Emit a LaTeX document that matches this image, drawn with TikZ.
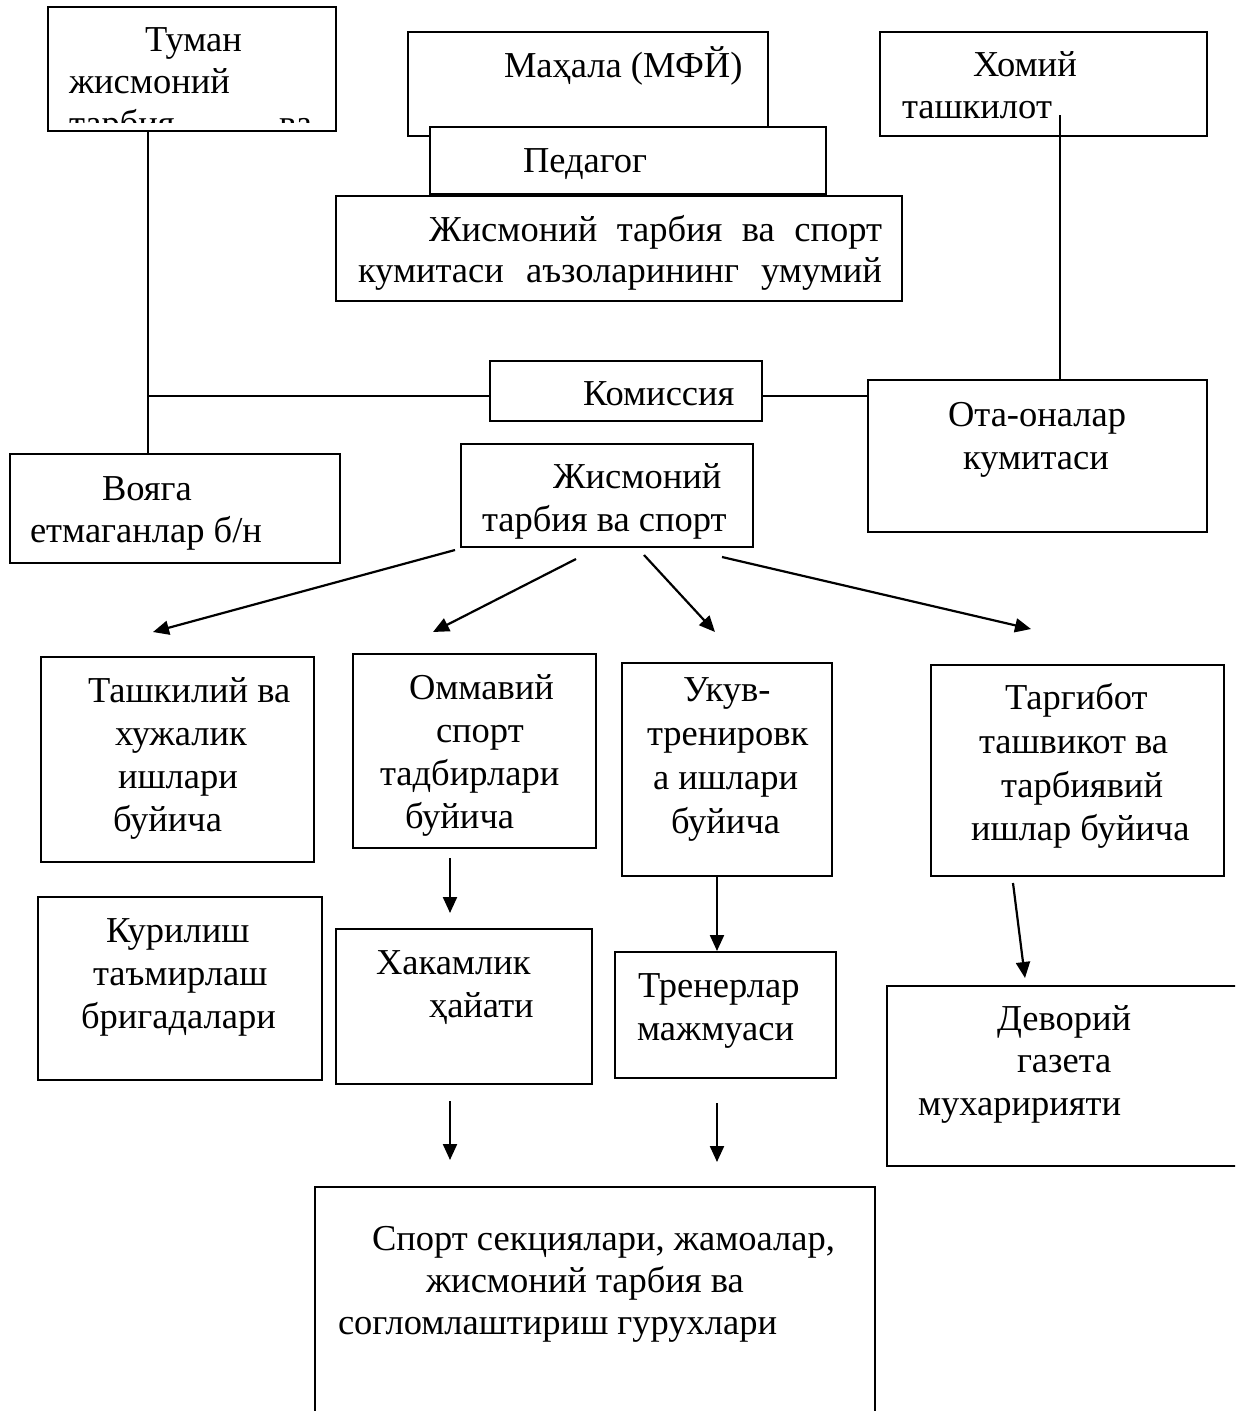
\documentclass[tikz,border=0pt]{standalone}
\usepackage{fontspec}
\setmainfont{Liberation Serif}
\usetikzlibrary{arrows.meta}
\tikzset{
  box/.style={draw, line width=2pt, inner sep=0pt, outer sep=0pt, anchor=north west, fill=white},
  txt/.style={anchor=base west, inner sep=0pt, outer sep=0pt, font=\fontsize{36.5}{43}\selectfont},
  link/.style={line width=2.2pt},
  arr/.style={line width=2.2pt, -{Triangle[length=16pt,width=14pt]}}
}
\newcommand\mybox[5]{\node[box, minimum width=#4pt, minimum height=#5pt] (#1) at (#2,#3) {};}
\newcommand\tx[4]{\node[txt] (#1) at (#2,#3) {#4};}
\begin{document}
\begin{tikzpicture}[x=1pt,y=-1pt]
\clip (0,0) rectangle (1235,1411);
\fill[white] (0,0) rectangle (1235,1411);
% boxes
\mybox{tuman}{48}{7}{288}{124}
\mybox{mahalla}{408}{32}{360}{104}
\mybox{pedagog}{430}{127}{396}{67}
\mybox{jtop}{336}{196}{566}{105}
\mybox{homiy}{880}{32}{327}{104}
\mybox{komis}{490}{361}{272}{60}
\mybox{ota}{868}{380}{339}{152}
\mybox{voyaga}{10}{454}{330}{109}
\mybox{jsport}{461}{444}{292}{103}
\mybox{tashk}{41}{657}{273}{205}
\mybox{ommav}{353}{654}{243}{194}
\mybox{ukuv}{622}{663}{210}{213}
\mybox{targ}{931}{665}{293}{211}
\mybox{kuril}{38}{897}{284}{183}
\mybox{hakam}{336}{929}{256}{155}
\mybox{trener}{615}{952}{221}{126}
\mybox{devor}{887}{986}{380}{180}
\mybox{sport}{315}{1187}{560}{260}
% texts
\tx{t1}{145}{51}{Туман}
\tx{t2}{69}{93}{жисмоний}
\begin{scope}
\clip (48,7) rectangle (336,122);
\tx{t3}{69}{135}{\makebox[243pt][s]{тарбия ва}}
\end{scope}
\tx{t4}{504}{77}{Маҳала (МФЙ)}
\tx{t5}{523}{172}{Педагог}
\tx{t6}{429}{241}{\makebox[453pt][s]{Жисмоний тарбия ва спорт}}
\tx{t7}{358}{282}{\makebox[524pt][s]{кумитаси аъзоларининг умумий}}
\tx{t8}{973}{76}{Хомий}
\tx{t9}{902}{118}{ташкилот}
\tx{t10}{583}{405}{Комиссия}
\tx{t11}{948}{426}{Ота-оналар}
\tx{t12}{963}{469}{кумитаси}
\tx{t13}{102}{500}{Вояга}
\tx{t14}{30}{542}{етмаганлар б/н}
\tx{t15}{553}{488}{Жисмоний}
\tx{t16}{482}{531}{тарбия ва спорт}
\tx{t17}{88}{702}{Ташкилий ва}
\tx{t18}{115}{745}{хужалик}
\tx{t19}{118}{788}{ишлари}
\tx{t20}{113}{831}{буйича}
\tx{t21}{409}{699}{Оммавий}
\tx{t22}{436}{742}{спорт}
\tx{t23}{380}{785}{тадбирлари}
\tx{t24}{405}{828}{буйича}
\tx{t25}{683}{701}{Укув-}
\tx{t26}{647}{745}{тренировк}
\tx{t27}{653}{789}{а ишлари}
\tx{t28}{671}{833}{буйича}
\tx{t29}{1005}{709}{Таргибот}
\tx{t30}{979}{753}{ташвикот ва}
\tx{t31}{1001}{797}{тарбиявий}
\tx{t32}{971}{840}{ишлар буйича}
\tx{t33}{106}{942}{Курилиш}
\tx{t34}{93}{985}{таъмирлаш}
\tx{t35}{81}{1028}{бригадалари}
\tx{t36}{376}{974}{Хакамлик}
\tx{t37}{429}{1017}{ҳайати}
\tx{t38}{638}{997}{Тренерлар}
\tx{t39}{637}{1040}{мажмуаси}
\tx{t40}{997}{1030}{Деворий}
\tx{t41}{1017}{1072}{газета}
\tx{t42}{918}{1115}{мухаририяти}
\tx{t43}{372}{1250}{Спорт секциялари, жамоалар,}
\tx{t44}{426}{1292}{жисмоний тарбия ва}
\tx{t45}{338}{1334}{согломлаштириш гурухлари}
% plain connectors
\coordinate (tumanB) at (148,131);
\coordinate (junc) at (148,396);
\coordinate (voyT) at (148,454);
\draw[link] (tumanB) -- (voyT);
\draw[link] (junc) -- (komis.west |- junc);
\draw[link] (komis.east |- junc) -- (ota.west |- junc);
\coordinate (homS) at (1060,115);
\draw[link] (homS) -- (homS |- ota.north);
% arrows
\coordinate (a1s) at (455,550); \coordinate (a1e) at (153,632);
\coordinate (a2s) at (576,559); \coordinate (a2e) at (433,632);
\coordinate (a3s) at (644,555); \coordinate (a3e) at (715,632);
\coordinate (a4s) at (722,557); \coordinate (a4e) at (1031,629);
\coordinate (a5s) at (450,858); \coordinate (a5e) at (450,913);
\coordinate (a6s) at (450,1101); \coordinate (a6e) at (450,1160);
\coordinate (a7s) at (717,876); \coordinate (a7e) at (717,951);
\coordinate (a8s) at (717,1103); \coordinate (a8e) at (717,1162);
\coordinate (a9s) at (1013,883); \coordinate (a9e) at (1025,978);
\foreach \i in {1,...,9} {\draw[arr] (a\i s) -- (a\i e);}
\end{tikzpicture}
\end{document}
